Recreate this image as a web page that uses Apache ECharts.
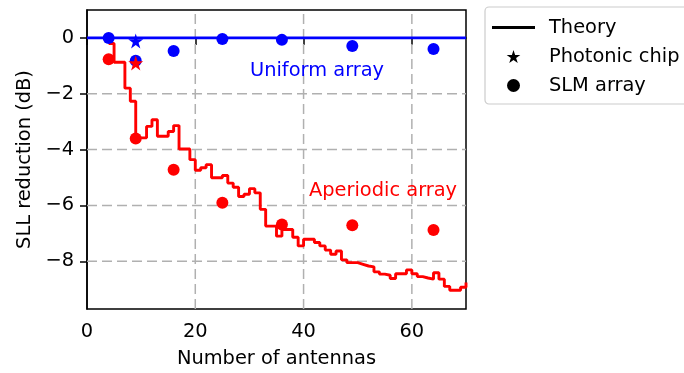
<!DOCTYPE html>
<html>
<head>
<meta charset="utf-8">
<script src="https://cdn.jsdelivr.net/npm/echarts@6/dist/echarts.min.js"></script>
<style>
html,body{margin:0;padding:0;background:#fff;}
#chart{width:684px;height:373px;}
</style>
</head>
<body>
<div id="chart"></div>
<script>
// ---- data ----
const theoryN = [4,5,6,7,8,9,10,11,12,13,14,15,16,17,18,19,20,21,22,23,24,25,26,27,28,29,30,31,32,33,34,35,36,37,38,39,40,41,42,43,44,45,46,47,48,49,50,51,52,53,54,55,56,57,58,59,60,61,62,63,64,65,66,67,68,69,70];
const theoryAperiodic = [-0.2,-0.87,-0.87,-1.8,-2.27,-3.58,-3.58,-3.17,-2.93,-3.52,-3.52,-3.35,-3.14,-3.98,-3.98,-4.36,-4.74,-4.65,-4.54,-5.01,-5.01,-4.93,-5.2,-5.35,-5.68,-5.6,-5.4,-5.55,-6.14,-6.74,-6.74,-7.1,-6.86,-6.86,-7.14,-7.45,-7.21,-7.21,-7.33,-7.45,-7.6,-7.75,-7.63,-7.95,-8.05,-8.05,-8.11,-8.17,-8.2,-8.38,-8.46,-8.5,-8.62,-8.45,-8.45,-8.31,-8.45,-8.55,-8.6,-8.64,-8.41,-8.64,-8.9,-9.04,-9.04,-8.93,-8.76];
const theoryUniformN = [0, 70];
const theoryUniform = [0, 0];
const slmN = [4, 9, 16, 25, 36, 49, 64];
const slmUniform = [0.0, -0.82, -0.47, -0.04, -0.07, -0.29, -0.4];
const slmAperiodic = [-0.76, -3.6, -4.72, -5.9, -6.68, -6.71, -6.88];
const chipN = [9];
const chipUniform = [-0.11];
const chipAperiodic = [-0.9];
const xTicks = [0, 20, 40, 60];
const yTicks = [-8, -6, -4, -2, 0];
const xGrid = [20, 40, 60];
const yGrid = [-8, -6, -4, -2];

// ---- styles ----
const FONT = 'DejaVu Sans';
const FS = 19.4;
const BLUE = '#0000ff', RED = '#ff0000';
const STAR = 'path://M0,-10L2.245,-3.09L9.51,-3.09L3.633,1.18L5.88,8.09L0,3.82L-5.88,8.09L-3.633,1.18L-9.51,-3.09L-2.245,-3.09Z';
const LINEICON = 'path://M0,0L43,0L43,2.9L0,2.9Z';
const XMIN = 0, XMAX = 70, YMIN = -9.71, YMAX = 1.0;

const zip = (xs, ys) => xs.map((x, i) => [x, ys[i]]);

const series = [];
// grid lines
xGrid.forEach(v => series.push({
  type: 'line', silent: true, symbol: 'none', z: 1,
  data: [[v, YMIN], [v, YMAX]],
  lineStyle: {color: '#b0b0b0', width: 1.5, type: [10, 5]}
}));
yGrid.forEach(v => series.push({
  type: 'line', silent: true, symbol: 'none', z: 1,
  data: [[XMIN, v], [XMAX, v]],
  lineStyle: {color: '#b0b0b0', width: 1.5, type: [10, 5]}
}));
// theory lines
series.push({
  type: 'line', name: 'uniform theory', symbol: 'none', z: 3, silent: true,
  data: zip(theoryUniformN, theoryUniform),
  lineStyle: {color: BLUE, width: 2.9}
});
series.push({
  type: 'line', name: 'aperiodic theory', symbol: 'none', step: 'end', z: 3, silent: true,
  data: zip(theoryN, theoryAperiodic),
  lineStyle: {color: RED, width: 2.9}
});
// SLM points
series.push({
  type: 'scatter', name: 'slm uniform', symbol: 'circle', symbolSize: 12, z: 4, silent: true,
  data: zip(slmN, slmUniform), itemStyle: {color: BLUE, opacity: 1}
});
series.push({
  type: 'scatter', name: 'slm aperiodic', symbol: 'circle', symbolSize: 12, z: 4, silent: true,
  data: zip(slmN, slmAperiodic), itemStyle: {color: RED, opacity: 1}
});
// chip points
series.push({
  type: 'scatter', name: 'chip uniform', symbol: STAR, symbolSize: 15, z: 5, silent: true,
  data: zip(chipN, chipUniform), itemStyle: {color: BLUE, opacity: 1}
});
series.push({
  type: 'scatter', name: 'chip aperiodic', symbol: STAR, symbolSize: 15, z: 5, silent: true,
  data: zip(chipN, chipAperiodic), itemStyle: {color: RED, opacity: 1}
});
// legend dummies
series.push({type: 'scatter', name: 'Theory', symbol: LINEICON, data: [], itemStyle: {color: '#000', opacity: 1}});
series.push({type: 'scatter', name: 'Photonic chip', symbol: STAR, data: [], itemStyle: {color: '#000', opacity: 1}});
series.push({type: 'scatter', name: 'SLM array', symbol: 'circle', data: [], itemStyle: {color: '#000', opacity: 1}});

const minus = v => String(v).replace('-', '\u2212');

const chart = echarts.init(document.getElementById('chart'), null, {renderer: 'canvas'});
chart.setOption({
  animation: false,
  backgroundColor: '#fff',
  textStyle: {fontFamily: FONT},
  grid: {left: 87, top: 10, width: 379, height: 300, show: true, borderColor: '#000', borderWidth: 1.5, backgroundColor: 'transparent'},
  xAxis: {
    type: 'value', min: XMIN, max: XMAX,
    name: 'Number of antennas', nameLocation: 'middle', nameGap: 40,
    nameTextStyle: {fontSize: FS, fontFamily: FONT, color: '#000'},
    axisLine: {show: true, lineStyle: {color: '#000', width: 1.5}},
    axisTick: {show: true, length: 7, customValues: xTicks, lineStyle: {color: '#000', width: 1.5}},
    axisLabel: {customValues: xTicks, fontSize: FS, fontFamily: FONT, color: '#000', margin: 13, formatter: minus},
    splitLine: {show: false}
  },
  yAxis: {
    type: 'value', min: YMIN, max: YMAX,
    name: 'SLL reduction (dB)', nameLocation: 'middle', nameGap: 47, nameRotate: 90,
    nameTextStyle: {fontSize: FS, fontFamily: FONT, color: '#000'},
    axisLine: {show: true, lineStyle: {color: '#000', width: 1.5}},
    axisTick: {show: true, length: 7, customValues: yTicks, lineStyle: {color: '#000', width: 1.5}},
    axisLabel: {customValues: yTicks, fontSize: FS, fontFamily: FONT, color: '#000', margin: 13, formatter: minus},
    splitLine: {show: false}
  },
  legend: {
    orient: 'vertical', left: 485, top: 7,
    itemWidth: 43, itemHeight: 13, itemGap: 10,
    padding: [11, 10, 9, 7],
    borderColor: '#cccccc', borderWidth: 1.2, borderRadius: 4,
    backgroundColor: 'rgba(255,255,255,0.8)',
    selectedMode: false,
    textStyle: {fontSize: FS, fontFamily: FONT, color: '#000', padding: [0, 0, 0, 9]},
    data: [
      {name: 'Theory', icon: LINEICON},
      {name: 'Photonic chip', icon: STAR},
      {name: 'SLM array', icon: 'circle'}
    ]
  },
  graphic: [
    {type: 'text', x: 250, y: 71, z: 10, style: {text: 'Uniform array', fill: BLUE, fontSize: FS, fontFamily: FONT, verticalAlign: 'middle'}},
    {type: 'text', x: 309, y: 191, z: 10, style: {text: 'Aperiodic array', fill: RED, fontSize: FS, fontFamily: FONT, verticalAlign: 'middle'}}
  ],
  series: series
});
</script>
</body>
</html>
